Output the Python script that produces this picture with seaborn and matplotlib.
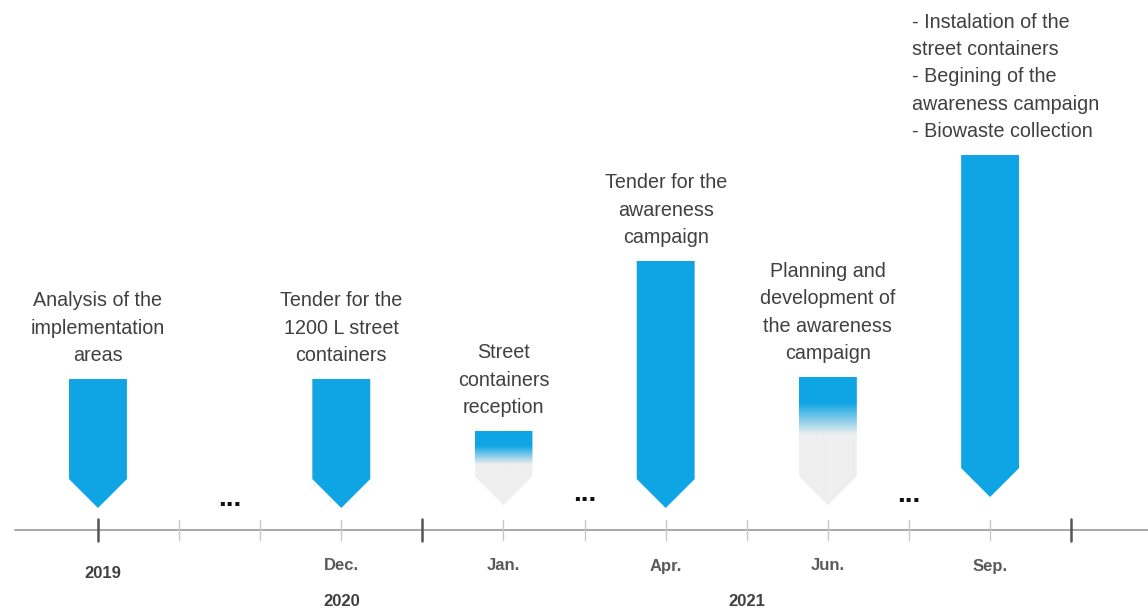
import numpy as np
import seaborn as sns
import matplotlib.pyplot as plt
from matplotlib.patches import Polygon
from matplotlib.colors import LinearSegmentedColormap

sns.set_theme(style="white")
plt.rcParams['font.family'] = ['Liberation Sans', 'DejaVu Sans']

# timeline slots (one slot per tick), events sit on some of them
slot_count = 13
major_slots = [0, 4, 12]
event_slot = [0, 3, 5, 7, 9, 11]
event_top = [151, 151, 99, 269, 153, 375]
event_tip = [22, 22, 25, 22, 25, 33]
event_faded = [False, False, True, False, True, False]
event_text = [
    "Analysis of the\nimplementation\nareas",
    "Tender for the\n1200 L street\ncontainers",
    "Street\ncontainers\nreception",
    "Tender for the\nawareness\ncampaign",
    "Planning and\ndevelopment of\nthe awareness\ncampaign",
    "- Instalation of the\nstreet containers\n- Begining of the\nawareness campaign\n- Biowaste collection",
]
month_labels = ["2019", "Dec.", "Jan.", "Apr.", "Jun.", "Sep."]
year_labels = ["2020", "2021"]
year_slot = [3, 8]
gap_slot = [1.63, 6.0, 10.0]
gap_height = [24, 29, 28]

blue = "#0FA5E4"
fade = "#EFEFEF"

fig = plt.figure(figsize=(11.48, 6.10), dpi=100)
ax = fig.add_axes([0, 0, 1, 1])
ax.set_xlim(-1.208, 12.947)
ax.set_ylim(-80, 530)
ax.axis("off")

# axis line and ticks
ax.plot([-1.02, 12.95], [0, 0], color="#A8A8A8", lw=1.4, zorder=1)
for s in range(slot_count):
    if s in major_slots:
        ax.plot([s, s], [-11, 11], color="#555555", lw=1.8, zorder=2)
    else:
        ax.plot([s, s], [-10, 10], color="#C8C8C8", lw=1.0, zorder=2)

half = 0.357
cmap = LinearSegmentedColormap.from_list("fd", [(0, fade), (0.55, fade), (0.8, blue), (1, blue)])
for x, top, tip, faded, txt in zip(event_slot, event_top, event_tip, event_faded, event_text):
    depth = half * 81.1  # 45 degree point
    pts = [(x - half, top), (x + half, top), (x + half, tip + depth),
           (x, tip), (x - half, tip + depth)]
    if faded:
        poly = Polygon(pts, closed=True, facecolor="none", edgecolor="none")
        ax.add_patch(poly)
        grad = np.linspace(0, 1, 256).reshape(-1, 1)
        im = ax.imshow(grad, cmap=cmap, origin="lower", aspect="auto",
                       extent=[x - half, x + half, tip, top], zorder=3)
        im.set_clip_path(poly)
    else:
        ax.add_patch(Polygon(pts, closed=True, facecolor=blue, edgecolor="none", zorder=3))
    if txt.startswith("-"):
        ax.text(x - 0.96, top + 14, txt, ha="left", va="bottom", fontsize=14.2,
                color="#404040", linespacing=1.55)
    else:
        ax.text(x, top + 14, txt, ha="center", va="bottom", fontsize=14.2,
                color="#404040", linespacing=1.55)

# bottom labels
for x, lab in zip(event_slot, month_labels):
    if lab.isdigit():
        ax.text(x + 0.06, -43, lab, ha="center", va="center", fontsize=12,
                fontweight="bold", color="#404040")
    else:
        ax.text(x, -36, lab, ha="center", va="center", fontsize=12,
                fontweight="bold", color="#5A5A5A")
for x, lab in zip(year_slot, year_labels):
    ax.text(x, -72, lab, ha="center", va="center", fontsize=12,
            fontweight="bold", color="#404040")

# ellipsis between periods
for x, h in zip(gap_slot, gap_height):
    ax.text(x, h, "...", ha="center", va="baseline", fontsize=20,
            fontweight="bold", color="#111111")

fig.savefig("out.png", dpi=100)
